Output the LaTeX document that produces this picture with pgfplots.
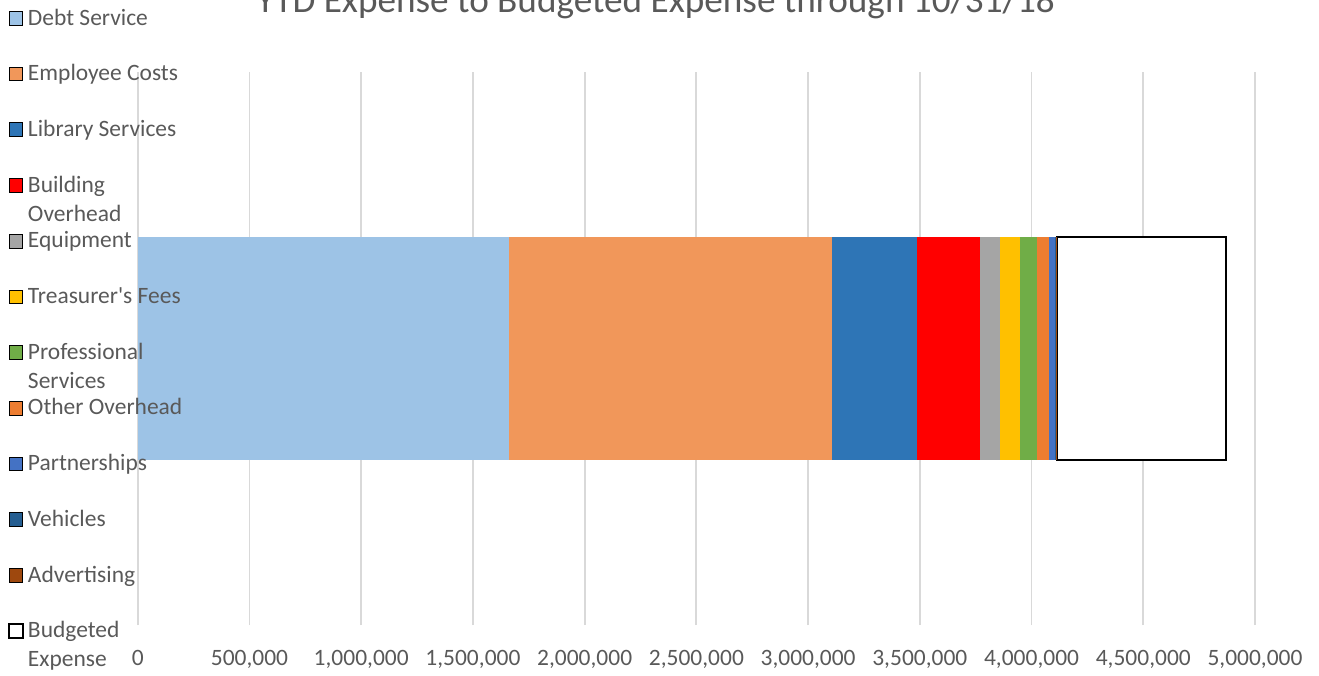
\documentclass[border=0pt]{standalone}
\usepackage{pgfplots}
\pgfplotsset{compat=1.18}
\usepackage{fontspec}
\setmainfont{Carlito}
\definecolor{txt}{HTML}{595959}
\definecolor{gridc}{HTML}{D9D9D9}
\definecolor{cDebt}{HTML}{9DC3E6}
\definecolor{cEmp}{HTML}{F1975A}
\definecolor{cLib}{HTML}{2E75B6}
\definecolor{cBld}{HTML}{FF0000}
\definecolor{cEqu}{HTML}{A5A5A5}
\definecolor{cTre}{HTML}{FFC000}
\definecolor{cPro}{HTML}{70AD47}
\definecolor{cOth}{HTML}{ED7D31}
\definecolor{cPar}{HTML}{4472C4}
\definecolor{cVeh}{HTML}{255E91}
\definecolor{cAdv}{HTML}{9E480E}
\begin{document}
\begin{tikzpicture}
\useasboundingbox (0,0) rectangle (989.25pt,506.25pt);
\begin{axis}[
  at={(103.3pt,37.5pt)}, anchor=south west,
  width=837.95pt, height=414.75pt, scale only axis,
  xbar stacked, bar width=166.5pt,
  xmin=0, xmax=5000000, ymin=-1, ymax=1,
  xtick={0,500000,1000000,1500000,2000000,2500000,3000000,3500000,4000000,4500000,5000000},
  scaled x ticks=false,
  xticklabel style={/pgf/number format/.cd, fixed, 1000 sep={,}, assume math mode=true, /tikz/.cd, anchor=base, yshift=-30pt, font=\fontsize{17.6}{21}\selectfont, text=txt},
  ytick=\empty,
  xmajorgrids, grid style={gridc, line width=1.4pt},
  axis line style={draw=none},
  major tick length=0pt,
  every axis title shift=0pt,
  title={YTD Expense to Budgeted Expense through 10/31/18},
  title style={at={(0.4635,1.1072)}, anchor=base, font=\fontsize{27.9}{33}\selectfont, text=txt, inner sep=0pt},
  legend style={at={(-0.11612,1.12598)}, anchor=north west, draw=none, fill=none, inner sep=0pt, outer sep=0pt, row sep=0pt, column sep=3.2pt, cells={anchor=base west}, nodes={inner sep=0pt, anchor=base west, text height=17pt, text depth=24.78pt, font=\fontsize{17.6}{21.75}\selectfont, text=txt}},
  legend image code/.code={\draw[#1] (0pt,0pt) rectangle (10.3pt,10.3pt);},
]
\addplot[fill=cDebt, draw=none] coordinates {(1662000,0)};
\addlegendentry{Debt Service}
\addplot[fill=cEmp, draw=none] coordinates {(1445000,0)};
\addlegendentry{Employee Costs}
\addplot[fill=cLib, draw=none] coordinates {(380000,0)};
\addlegendentry{Library Services}
\addplot[fill=cBld, draw=none] coordinates {(282000,0)};
\addlegendentry{\parbox[t]{120pt}{Building\\Overhead}}
\addplot[fill=cEqu, draw=none] coordinates {(89500,0)};
\addlegendentry{Equipment}
\addplot[fill=cTre, draw=none] coordinates {(89500,0)};
\addlegendentry{Treasurer\textquotesingle s Fees}
\addplot[fill=cPro, draw=none] coordinates {(77400,0)};
\addlegendentry{\parbox[t]{120pt}{Professional\\Services}}
\addplot[fill=cOth, draw=none] coordinates {(53700,0)};
\addlegendentry{Other Overhead}
\addplot[fill=cPar, draw=none] coordinates {(26000,0)};
\addlegendentry{Partnerships}
\addplot[fill=cVeh, draw=none] coordinates {(5000,0)};
\addlegendentry{Vehicles}
\addplot[fill=cAdv, draw=none] coordinates {(3000,0)};
\addlegendentry{Advertising}
\addplot[fill=white, draw=black, line width=1.5pt] coordinates {(756000,0)};
\addlegendentry{\parbox[t]{120pt}{Budgeted\\Expense}}
\end{axis}
\end{tikzpicture}
\end{document}
